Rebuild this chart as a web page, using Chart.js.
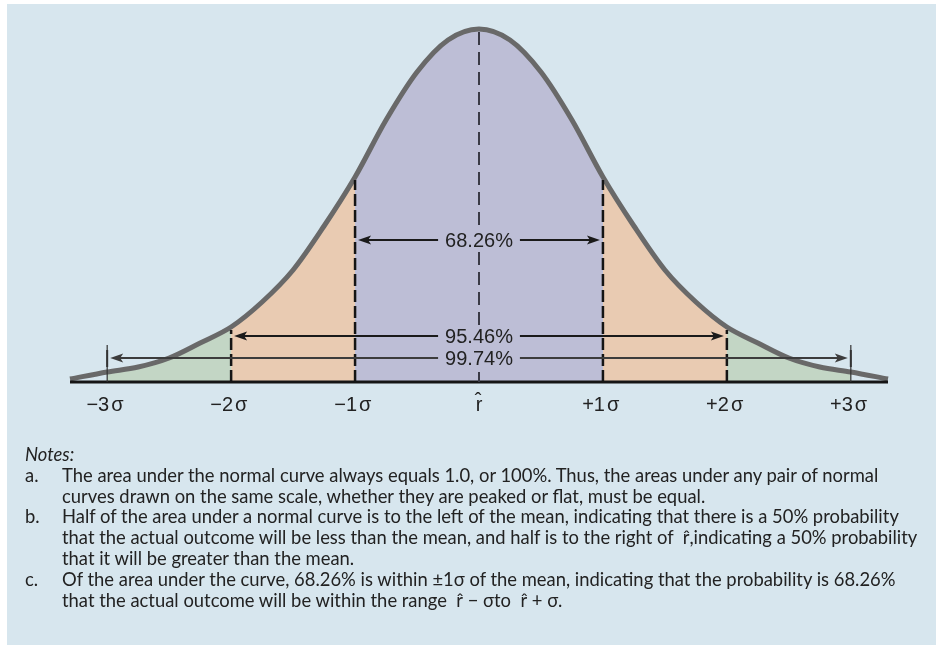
<!DOCTYPE html>
<html>
<head>
<meta charset="utf-8">
<script src="https://cdn.jsdelivr.net/npm/chart.js@4"></script>
<style>
  body { margin: 0; background: #fff; }
  #panel { position: absolute; left: 7px; top: 4px; right: 0; bottom: 0; background: #d7e6ee; }
  #chart { position: absolute; left: 0; top: 0; }
  #notes { position: absolute; left: 25px; top: 444px; font: 18.4px Lato, sans-serif; line-height: 20.8px; color: #222; white-space: nowrap; }
  .item { display: flex; }
  .k { width: 37px; flex: none; }
</style>
</head>
<body>
<div id="panel"></div>
<canvas id="chart" width="936" height="645"></canvas>
<div id="notes">
  <div><i>Notes:</i></div>
  <div class="item"><span class="k">a.</span><div>The area under the normal curve always equals 1.0, or 100%. Thus, the areas under any pair of normal<br>curves drawn on the same scale, whether they are peaked or flat, must be equal.</div></div>
  <div class="item"><span class="k">b.</span><div>Half of the area under a normal curve is to the left of the mean, indicating that there is a 50% probability<br>that the actual outcome will be less than the mean, and half is to the right of &nbsp;r̂,indicating a 50% probability<br>that it will be greater than the mean.</div></div>
  <div class="item"><span class="k">c.</span><div>Of the area under the curve, 68.26% is within ±1σ of the mean, indicating that the probability is 68.26%<br>that the actual outcome will be within the range &nbsp;r̂ − σto &nbsp;r̂ + σ.</div></div>
</div>
<script>
// curve (x in sigmas, height in px above the baseline)
const sigmaX = [-3.3, -3, -2.75, -2.5, -2.25, -2, -1.75, -1.5, -1.25, -1, -0.75, -0.5, -0.25, 0,
                0.25, 0.5, 0.75, 1, 1.25, 1.5, 1.75, 2, 2.25, 2.5, 2.75, 3, 3.3];
const curveHeight = [3, 10, 15, 24, 39, 55, 80, 112, 156, 205, 262, 310, 342, 353,
                     342, 310, 262, 205, 156, 112, 80, 55, 39, 24, 15, 10, 3];

// shaded bands
const bandFrom = [-3, -2, -1, 1, 2];
const bandTo = [-2, -1, 1, 2, 3];
const bandColor = ['#c3d6c5', '#e9cbb2', '#bdbed6', '#e9cbb2', '#c3d6c5'];

// axis labels
const tickValues = [-3, -2, -1, 0, 1, 2, 3];
const tickNumbers = ['−3', '−2', '−1', 'r̂', '+1', '+2', '+3'];
const tickSuffix = ['σ', 'σ', 'σ', '', 'σ', 'σ', 'σ'];

// the three spans
const spanSigma = [1, 2, 3];
const spanLabels = ['68.26%', '95.46%', '99.74%'];

const points = sigmaX.map((x, i) => ({ x: x, y: curveHeight[i] }));

const datasets = bandFrom.map((from, i) => ({
  data: points.filter(p => p.x >= from && p.x <= bandTo[i]),
  backgroundColor: bandColor[i],
  borderWidth: 0,
  fill: 'origin',
  pointRadius: 0,
  cubicInterpolationMode: 'monotone',
  clip: false,
  order: 1
}));
// the outline goes on top of the fills
datasets.push({
  data: points,
  borderColor: '#696969',
  borderWidth: 5,
  borderCapStyle: 'butt',
  fill: false,
  pointRadius: 0,
  cubicInterpolationMode: 'monotone',
  clip: false,
  order: 0
});

function head(ctx, x, y, dir) {
  ctx.beginPath();
  ctx.moveTo(x, y);
  ctx.lineTo(x - dir * 13, y - 4.5);
  ctx.lineTo(x - dir * 10, y);
  ctx.lineTo(x - dir * 13, y + 4.5);
  ctx.closePath();
  ctx.fill();
}

const guides = {
  id: 'guides',
  afterDatasetsDraw(chart) {
    const { ctx } = chart;
    const x = chart.scales.x, y = chart.scales.y;
    const base = y.getPixelForValue(0);
    const curveAt = v => y.getPixelForValue(curveHeight[sigmaX.indexOf(v)]);
    ctx.save();

    // baseline
    ctx.strokeStyle = '#151515';
    ctx.lineWidth = 3;
    ctx.beginPath();
    ctx.moveTo(x.getPixelForValue(sigmaX[0]), base);
    ctx.lineTo(x.getPixelForValue(sigmaX[sigmaX.length - 1]), base);
    ctx.stroke();

    // dashed sigma lines
    ctx.lineWidth = 2.5;
    ctx.setLineDash([12, 4]);
    [-2, -1, 1, 2].forEach(v => {
      const px = x.getPixelForValue(v);
      ctx.beginPath();
      ctx.moveTo(px, base);
      ctx.lineTo(px, curveAt(v) + 3);
      ctx.stroke();
    });

    // mean line
    ctx.strokeStyle = '#3a3a46';
    ctx.lineWidth = 2;
    ctx.setLineDash([13, 7]);
    const mx = x.getPixelForValue(0);
    ctx.beginPath();
    ctx.moveTo(mx, curveAt(0) + 3);
    ctx.lineTo(mx, base);
    ctx.stroke();
    ctx.setLineDash([]);

    // ±3 sigma end marks
    ctx.strokeStyle = '#333';
    [-3, 3].forEach(v => {
      const px = x.getPixelForValue(v);
      ctx.lineWidth = 1.2;
      ctx.beginPath();
      ctx.moveTo(px, 345);
      ctx.lineTo(px, base);
      ctx.stroke();
      ctx.lineWidth = 2;
      ctx.beginPath();
      ctx.moveTo(px, 350);
      ctx.lineTo(px, 367);
      ctx.stroke();
    });

    // spans with arrows
    const levels = [240, 336, 358];
    ctx.font = '20px "Liberation Sans", Arial, sans-serif';
    ctx.textAlign = 'center';
    ctx.textBaseline = 'middle';
    spanSigma.forEach((s, i) => {
      const yy = levels[i];
      const xl = x.getPixelForValue(-s) + 3;
      const xr = x.getPixelForValue(s) - 3;
      const w = ctx.measureText(spanLabels[i]).width;
      ctx.fillStyle = '#bdbed6';
      ctx.fillRect(mx - w / 2 - 4, yy - 10, w + 8, 20);
      ctx.strokeStyle = i === 2 ? '#3c3c3c' : '#1a1a1a';
      ctx.fillStyle = ctx.strokeStyle;
      ctx.lineWidth = i === 2 ? 2 : 1.8;
      ctx.beginPath();
      ctx.moveTo(xl + 8, yy);
      ctx.lineTo(mx - w / 2 - 7, yy);
      ctx.moveTo(mx + w / 2 + 7, yy);
      ctx.lineTo(xr - 8, yy);
      ctx.stroke();
      head(ctx, xl, yy, -1);
      head(ctx, xr, yy, 1);
      ctx.fillStyle = '#222';
      ctx.fillText(spanLabels[i], mx, yy + 1);
    });

    // axis labels
    ctx.fillStyle = '#222';
    ctx.textBaseline = 'alphabetic';
    tickValues.forEach((v, i) => {
      const px = x.getPixelForValue(v);
      if (tickSuffix[i]) {
        ctx.textAlign = 'right';
        ctx.fillText(tickNumbers[i], px + 2, 411);
        ctx.textAlign = 'left';
        ctx.fillText(tickSuffix[i], px + 4, 411);
      } else {
        ctx.textAlign = 'center';
        ctx.fillText(tickNumbers[i], px, 411);
      }
    });
    ctx.restore();
  }
};

new Chart(document.getElementById('chart'), {
  type: 'line',
  data: { datasets: datasets },
  options: {
    responsive: false,
    animation: false,
    layout: { padding: { left: 70, right: 48, top: 29, bottom: 263 } },
    scales: {
      x: { type: 'linear', min: -3.3, max: 3.3, display: false },
      y: { min: 0, max: 353, display: false }
    },
    plugins: { legend: { display: false }, tooltip: { enabled: false } }
  },
  plugins: [guides]
});
</script>
</body>
</html>
